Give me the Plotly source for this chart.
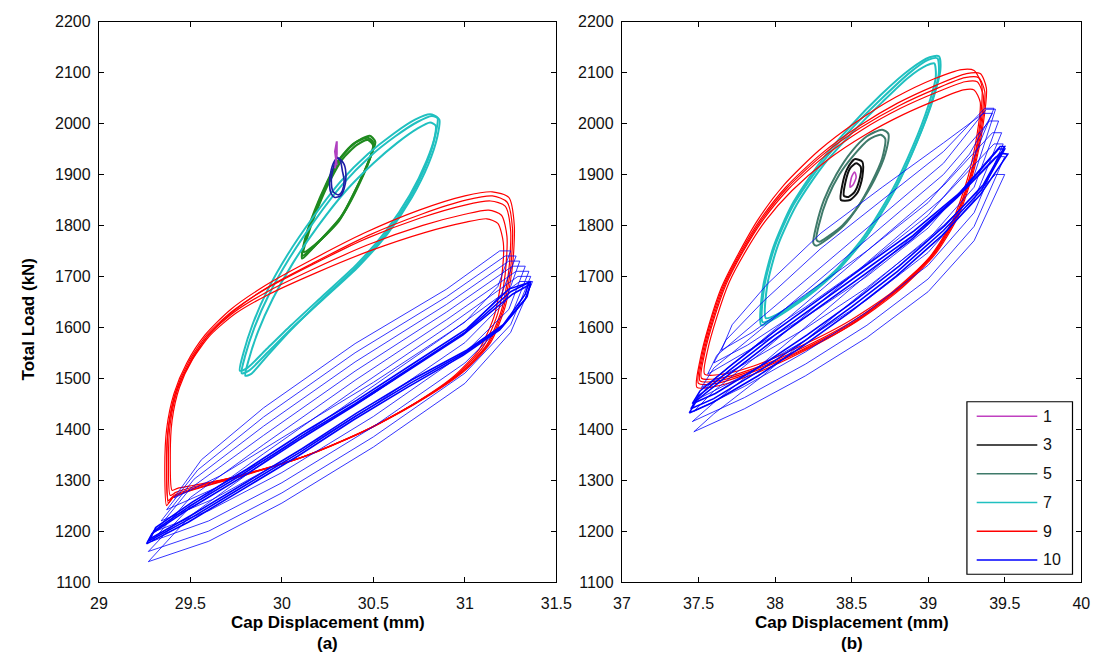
import plotly.graph_objects as go

# ---------------- data ----------------
SERIES = ["1", "3", "5", "7", "9", "10"]
X_TICKS_A = [29, 29.5, 30, 30.5, 31, 31.5]
X_TICKS_B = [37, 37.5, 38, 38.5, 39, 39.5, 40]
Y_TICKS = [1100, 1200, 1300, 1400, 1500, 1600, 1700, 1800, 1900, 2000, 2100, 2200]
X_TITLE = "Cap Displacement (mm)"
Y_TITLE = "Total Load (kN)"
PANEL_LABELS = ["(a)", "(b)"]

# ----- panel (a) -----
A1_X = [[30.29, 30.30, 30.30, 30.29, 30.30]]
A1_Y = [[1912, 1940, 1965, 1945, 1918]]

A3_X = [[30.27, 30.26, 30.27, 30.29, 30.31, 30.34, 30.35, 30.34, 30.32, 30.29, 30.27],
        [30.28, 30.27, 30.28, 30.30, 30.32, 30.33, 30.34, 30.33, 30.31, 30.28]]
A3_Y = [[1862, 1885, 1910, 1928, 1932, 1920, 1895, 1872, 1858, 1855, 1862],
        [1866, 1888, 1912, 1934, 1926, 1908, 1888, 1868, 1860, 1866]]

A5_X = [[30.11, 30.14, 30.19, 30.25, 30.32, 30.40, 30.48, 30.51, 30.49, 30.43, 30.32, 30.18, 30.11],
        [30.12, 30.15, 30.20, 30.26, 30.33, 30.41, 30.47, 30.50, 30.48, 30.42, 30.31, 30.18, 30.12],
        [30.11, 30.13, 30.18, 30.24, 30.31, 30.39, 30.47, 30.50, 30.49, 30.44, 30.33, 30.17, 30.11]]
A5_Y = [[1740, 1785, 1835, 1885, 1932, 1962, 1976, 1964, 1940, 1890, 1815, 1760, 1740],
        [1748, 1790, 1838, 1886, 1930, 1958, 1968, 1956, 1932, 1882, 1808, 1762, 1748],
        [1735, 1778, 1830, 1880, 1928, 1960, 1972, 1962, 1942, 1895, 1820, 1756, 1735]]

A7_X = [[29.78, 29.80, 29.85, 29.93, 30.04, 30.18, 30.33, 30.48, 30.62, 30.74, 30.82, 30.86, 30.85, 30.80, 30.71, 30.58, 30.42, 30.24, 30.06, 29.92, 29.82, 29.78],
        [29.80, 29.82, 29.87, 29.95, 30.06, 30.20, 30.35, 30.50, 30.63, 30.74, 30.81, 30.84, 30.83, 30.78, 30.69, 30.56, 30.40, 30.22, 30.05, 29.92, 29.83, 29.80],
        [29.77, 29.79, 29.84, 29.92, 30.03, 30.17, 30.32, 30.47, 30.61, 30.73, 30.81, 30.85, 30.84, 30.79, 30.70, 30.57, 30.41, 30.23, 30.05, 29.91, 29.81, 29.77]]
A7_Y = [[1510, 1545, 1600, 1665, 1735, 1810, 1880, 1935, 1975, 2003, 2015, 2008, 1975, 1920, 1855, 1785, 1720, 1660, 1600, 1550, 1515, 1510],
        [1505, 1538, 1592, 1656, 1726, 1800, 1868, 1922, 1962, 1990, 2002, 1996, 1965, 1912, 1848, 1780, 1716, 1655, 1595, 1544, 1508, 1505],
        [1515, 1550, 1606, 1672, 1742, 1816, 1886, 1940, 1980, 2008, 2018, 2012, 1980, 1926, 1860, 1790, 1724, 1664, 1604, 1555, 1520, 1515]]

A9_X = [[29.37, 29.36, 29.37, 29.41, 29.48, 29.58, 29.72, 29.90, 30.15, 30.45, 30.75, 31.00, 31.15, 31.24, 31.27, 31.26, 31.22, 31.14, 31.00, 30.80, 30.50, 30.15, 29.80, 29.55, 29.40, 29.37],
        [29.38, 29.37, 29.38, 29.42, 29.49, 29.59, 29.73, 29.91, 30.16, 30.46, 30.76, 31.00, 31.14, 31.22, 31.25, 31.24, 31.20, 31.12, 30.98, 30.78, 30.48, 30.13, 29.78, 29.54, 29.41, 29.38],
        [29.39, 29.38, 29.39, 29.43, 29.50, 29.60, 29.74, 29.92, 30.17, 30.47, 30.77, 31.00, 31.13, 31.20, 31.23, 31.22, 31.18, 31.10, 30.96, 30.76, 30.46, 30.11, 29.76, 29.53, 29.42, 29.39],
        [29.40, 29.39, 29.40, 29.44, 29.51, 29.61, 29.75, 29.93, 30.18, 30.48, 30.78, 31.00, 31.12, 31.18, 31.21, 31.20, 31.16, 31.08, 30.94, 30.74, 30.44, 30.09, 29.74, 29.52, 29.43, 29.40],
        [29.38, 29.37, 29.38, 29.42, 29.50, 29.60, 29.74, 29.92, 30.17, 30.47, 30.77, 31.01, 31.15, 31.23, 31.26, 31.25, 31.21, 31.13, 30.99, 30.79, 30.49, 30.14, 29.79, 29.55, 29.41, 29.38]]
A9_Y = [[1250, 1320, 1400, 1470, 1530, 1585, 1635, 1680, 1730, 1785, 1830, 1858, 1866, 1855, 1800, 1720, 1640, 1570, 1515, 1465, 1405, 1350, 1310, 1285, 1265, 1250],
        [1260, 1328, 1406, 1474, 1532, 1585, 1632, 1675, 1722, 1774, 1815, 1840, 1848, 1838, 1790, 1712, 1634, 1566, 1512, 1462, 1402, 1348, 1310, 1287, 1270, 1260],
        [1270, 1336, 1412, 1478, 1534, 1585, 1630, 1670, 1714, 1762, 1800, 1822, 1830, 1820, 1778, 1704, 1628, 1562, 1508, 1458, 1398, 1345, 1308, 1288, 1276, 1270],
        [1280, 1344, 1418, 1482, 1536, 1585, 1628, 1665, 1706, 1750, 1786, 1806, 1813, 1804, 1766, 1696, 1622, 1558, 1504, 1454, 1394, 1342, 1306, 1290, 1284, 1280],
        [1255, 1324, 1403, 1472, 1531, 1585, 1633, 1678, 1726, 1780, 1823, 1850, 1858, 1846, 1795, 1716, 1637, 1568, 1514, 1464, 1404, 1349, 1310, 1286, 1268, 1255]]

A10_THIN_X = [[29.27, 29.60, 30.00, 30.50, 31.00, 31.25, 31.37, 31.30, 30.90, 30.40, 29.90, 29.50, 29.27],
              [29.27, 29.60, 30.00, 30.50, 31.00, 31.25, 31.36, 31.29, 30.90, 30.40, 29.90, 29.50, 29.27],
              [29.29, 29.60, 30.00, 30.50, 31.00, 31.25, 31.35, 31.28, 30.90, 30.40, 29.90, 29.50, 29.29],
              [29.31, 29.60, 30.00, 30.50, 31.00, 31.24, 31.33, 31.26, 30.90, 30.40, 29.90, 29.50, 29.31],
              [29.34, 29.62, 30.00, 30.50, 31.00, 31.22, 31.30, 31.24, 30.90, 30.40, 29.90, 29.52, 29.34],
              [29.37, 29.64, 30.00, 30.50, 31.00, 31.20, 31.28, 31.22, 30.90, 30.40, 29.90, 29.54, 29.37],
              [29.41, 29.66, 30.00, 30.50, 31.00, 31.18, 31.25, 31.19, 30.90, 30.40, 29.90, 29.56, 29.41]]
A10_THIN_Y = [[1140, 1180, 1255, 1365, 1490, 1590, 1690, 1690, 1585, 1460, 1335, 1230, 1140],
              [1160, 1200, 1275, 1385, 1510, 1605, 1700, 1700, 1600, 1478, 1352, 1248, 1160],
              [1180, 1220, 1295, 1405, 1530, 1620, 1710, 1710, 1615, 1496, 1370, 1266, 1180],
              [1200, 1240, 1315, 1425, 1550, 1635, 1720, 1720, 1630, 1514, 1388, 1284, 1200],
              [1220, 1262, 1337, 1447, 1570, 1650, 1730, 1730, 1645, 1532, 1406, 1302, 1220],
              [1242, 1285, 1360, 1470, 1590, 1665, 1740, 1740, 1660, 1550, 1424, 1320, 1242],
              [1265, 1308, 1383, 1492, 1610, 1680, 1750, 1750, 1675, 1568, 1442, 1340, 1265]]

A10_THICK_X = [[29.27, 29.50, 29.80, 30.10, 30.40, 30.70, 31.00, 31.20, 31.34, 31.36, 31.25, 31.00, 30.70, 30.40, 30.10, 29.80, 29.50, 29.30, 29.27],
               [29.28, 29.51, 29.81, 30.11, 30.41, 30.71, 31.01, 31.21, 31.33, 31.35, 31.24, 31.01, 30.71, 30.41, 30.11, 29.81, 29.51, 29.31, 29.28],
               [29.26, 29.49, 29.79, 30.09, 30.39, 30.69, 30.99, 31.19, 31.33, 31.36, 31.26, 30.99, 30.69, 30.39, 30.09, 29.79, 29.49, 29.29, 29.26]]
A10_THICK_Y = [[1180, 1225, 1290, 1355, 1425, 1490, 1550, 1600, 1660, 1690, 1670, 1590, 1520, 1450, 1385, 1315, 1250, 1200, 1180],
               [1185, 1232, 1297, 1362, 1432, 1497, 1555, 1605, 1665, 1688, 1675, 1597, 1527, 1457, 1392, 1322, 1257, 1207, 1185],
               [1175, 1218, 1283, 1348, 1418, 1483, 1545, 1595, 1655, 1685, 1665, 1585, 1515, 1445, 1378, 1308, 1243, 1195, 1175]]

# ----- panel (b) -----
B1_X = [[38.49, 38.50, 38.52, 38.53, 38.51, 38.49]]
B1_Y = [[1875, 1895, 1905, 1895, 1880, 1875]]

B3_X = [[38.43, 38.44, 38.47, 38.52, 38.57, 38.57, 38.54, 38.49, 38.43],
        [38.45, 38.46, 38.49, 38.53, 38.56, 38.55, 38.52, 38.48, 38.45]]
B3_Y = [[1850, 1880, 1910, 1930, 1925, 1895, 1865, 1850, 1850],
        [1858, 1885, 1912, 1922, 1915, 1888, 1866, 1856, 1858]]

B5_X = [[38.25, 38.27, 38.32, 38.40, 38.50, 38.60, 38.70, 38.74, 38.72, 38.65, 38.55, 38.45, 38.35, 38.27, 38.25],
        [38.27, 38.29, 38.34, 38.42, 38.52, 38.61, 38.69, 38.72, 38.70, 38.63, 38.54, 38.44, 38.35, 38.29, 38.27]]
B5_Y = [[1765, 1800, 1850, 1900, 1945, 1975, 1988, 1980, 1940, 1890, 1840, 1800, 1775, 1760, 1765],
        [1772, 1805, 1852, 1900, 1940, 1968, 1978, 1970, 1932, 1884, 1836, 1800, 1779, 1768, 1772]]

B7_X = [[37.92, 37.93, 38.00, 38.12, 38.30, 38.50, 38.70, 38.88, 39.00, 39.06, 39.07, 39.02, 38.92, 38.78, 38.60, 38.40, 38.20, 38.00, 37.92],
        [37.94, 37.95, 38.02, 38.14, 38.31, 38.51, 38.70, 38.87, 38.99, 39.04, 39.05, 39.00, 38.90, 38.76, 38.58, 38.39, 38.20, 38.01, 37.94],
        [37.91, 37.92, 37.99, 38.11, 38.29, 38.49, 38.69, 38.88, 39.01, 39.07, 39.08, 39.03, 38.93, 38.79, 38.61, 38.41, 38.21, 37.99, 37.91]]
B7_Y = [[1610, 1680, 1760, 1840, 1920, 1990, 2050, 2100, 2125, 2128, 2100, 2040, 1960, 1870, 1780, 1710, 1660, 1620, 1610],
        [1618, 1684, 1762, 1840, 1916, 1984, 2042, 2090, 2114, 2118, 2092, 2034, 1955, 1866, 1778, 1710, 1662, 1625, 1618],
        [1604, 1676, 1758, 1840, 1922, 1994, 2056, 2106, 2130, 2132, 2106, 2046, 1966, 1874, 1784, 1712, 1660, 1616, 1604]]

B9_X = [[37.50, 37.52, 37.58, 37.66, 37.77, 37.90, 38.07, 38.30, 38.55, 38.80, 39.05, 39.25, 39.34, 39.38, 39.36, 39.30, 39.20, 39.05, 38.80, 38.50, 38.15, 37.85, 37.62, 37.50],
        [37.52, 37.54, 37.60, 37.68, 37.79, 37.92, 38.09, 38.32, 38.57, 38.82, 39.06, 39.24, 39.32, 39.36, 39.34, 39.28, 39.18, 39.03, 38.78, 38.48, 38.14, 37.85, 37.64, 37.52],
        [37.54, 37.56, 37.62, 37.70, 37.81, 37.94, 38.11, 38.34, 38.59, 38.84, 39.07, 39.23, 39.30, 39.34, 39.32, 39.26, 39.16, 39.01, 38.76, 38.46, 38.13, 37.86, 37.66, 37.54],
        [37.49, 37.51, 37.57, 37.65, 37.76, 37.89, 38.06, 38.29, 38.54, 38.79, 39.04, 39.22, 39.30, 39.35, 39.34, 39.29, 39.19, 39.04, 38.79, 38.49, 38.14, 37.84, 37.61, 37.49],
        [37.51, 37.53, 37.59, 37.67, 37.78, 37.91, 38.08, 38.31, 38.56, 38.81, 39.05, 39.24, 39.33, 39.37, 39.35, 39.29, 39.19, 39.04, 38.79, 38.49, 38.15, 37.85, 37.63, 37.51]]
B9_Y = [[1490, 1540, 1610, 1680, 1745, 1810, 1875, 1940, 1995, 2040, 2075, 2098, 2098, 2070, 2000, 1910, 1820, 1745, 1670, 1605, 1550, 1512, 1490, 1490],
        [1500, 1548, 1615, 1684, 1748, 1810, 1872, 1935, 1988, 2030, 2062, 2082, 2082, 2055, 1990, 1902, 1815, 1742, 1670, 1607, 1554, 1518, 1500, 1500],
        [1508, 1555, 1620, 1688, 1750, 1810, 1868, 1928, 1978, 2018, 2048, 2066, 2066, 2042, 1980, 1895, 1810, 1738, 1668, 1608, 1558, 1524, 1508, 1508],
        [1482, 1535, 1606, 1678, 1744, 1812, 1880, 1948, 2005, 2052, 2088, 2106, 2104, 2075, 2005, 1915, 1825, 1748, 1672, 1604, 1546, 1506, 1484, 1482],
        [1495, 1544, 1612, 1682, 1746, 1810, 1874, 1938, 1992, 2035, 2068, 2090, 2090, 2062, 1995, 1906, 1818, 1744, 1670, 1606, 1552, 1515, 1495, 1495]]

B10_THIN_X = [[37.47, 37.80, 38.20, 38.60, 39.00, 39.30, 39.50, 39.44, 39.10, 38.70, 38.30, 37.90, 37.60, 37.47],
              [37.46, 37.80, 38.20, 38.60, 39.00, 39.30, 39.50, 39.44, 39.10, 38.70, 38.30, 37.90, 37.60, 37.46],
              [37.47, 37.80, 38.20, 38.60, 39.00, 39.30, 39.49, 39.43, 39.10, 38.70, 38.30, 37.90, 37.60, 37.47],
              [37.49, 37.80, 38.20, 38.60, 39.00, 39.30, 39.48, 39.42, 39.10, 38.70, 38.30, 37.90, 37.60, 37.49],
              [37.52, 37.80, 38.20, 38.60, 39.00, 39.30, 39.46, 39.40, 39.10, 38.70, 38.30, 37.90, 37.60, 37.52],
              [37.56, 37.80, 38.20, 38.60, 39.00, 39.30, 39.44, 39.38, 39.10, 38.70, 38.30, 37.90, 37.62, 37.56],
              [37.60, 37.82, 38.20, 38.60, 39.00, 39.28, 39.43, 39.37, 39.10, 38.70, 38.30, 37.92, 37.68, 37.60],
              [37.65, 37.85, 38.20, 38.60, 39.00, 39.27, 39.42, 39.36, 39.10, 38.70, 38.30, 37.95, 37.72, 37.65]]
B10_THIN_Y = [[1395, 1440, 1505, 1580, 1670, 1770, 1900, 1900, 1800, 1700, 1600, 1500, 1430, 1395],
              [1415, 1462, 1528, 1604, 1695, 1798, 1935, 1935, 1830, 1728, 1626, 1524, 1452, 1415],
              [1435, 1484, 1552, 1630, 1722, 1825, 1960, 1960, 1855, 1752, 1650, 1548, 1475, 1435],
              [1458, 1506, 1575, 1654, 1747, 1850, 1982, 1982, 1878, 1775, 1673, 1571, 1498, 1458],
              [1482, 1528, 1598, 1678, 1772, 1875, 2005, 2005, 1900, 1798, 1696, 1594, 1520, 1482],
              [1508, 1550, 1620, 1700, 1795, 1898, 2028, 2028, 1922, 1820, 1718, 1616, 1545, 1508],
              [1530, 1565, 1640, 1725, 1820, 1920, 2030, 2030, 1945, 1850, 1755, 1650, 1575, 1530],
              [1555, 1590, 1665, 1750, 1845, 1940, 2020, 2020, 1962, 1875, 1785, 1685, 1605, 1555]]

B10_THICK_X = [[37.45, 37.60, 37.90, 38.20, 38.50, 38.80, 39.10, 39.35, 39.50, 39.46, 39.20, 38.90, 38.60, 38.30, 38.00, 37.70, 37.50, 37.45],
               [37.46, 37.61, 37.91, 38.21, 38.51, 38.81, 39.11, 39.36, 39.50, 39.47, 39.21, 38.91, 38.61, 38.31, 38.01, 37.71, 37.51, 37.46],
               [37.44, 37.59, 37.89, 38.19, 38.49, 38.79, 39.09, 39.34, 39.52, 39.47, 39.19, 38.89, 38.59, 38.29, 37.99, 37.69, 37.49, 37.44]]
B10_THICK_Y = [[1440, 1460, 1515, 1575, 1640, 1710, 1790, 1870, 1950, 1950, 1860, 1780, 1715, 1650, 1585, 1515, 1465, 1440],
               [1450, 1470, 1525, 1585, 1650, 1720, 1800, 1880, 1955, 1955, 1865, 1790, 1725, 1660, 1595, 1525, 1475, 1450],
               [1432, 1452, 1505, 1565, 1630, 1700, 1780, 1860, 1940, 1942, 1855, 1772, 1705, 1640, 1575, 1505, 1457, 1432]]

# ---------------- styling ----------------
COLORS_A = {"1": "#b040c0", "3": "#1c1ca8", "5": "#1f8a1f", "7": "#20c0c0", "9": "#ff0000", "10": "#0000ff"}
COLORS_B = {"1": "#c040c0", "3": "#101010", "5": "#3f7a6a", "7": "#20c0c0", "9": "#ff0000", "10": "#0000ff"}
FONT = "Liberation Sans, Arial, sans-serif"
TICK_SIZE = 16
TITLE_SIZE = 17
W, H = 1110, 670

# frame positions in pixels
A_LEFT, A_RIGHT = 92, 560
B_LEFT, B_RIGHT = 627, 1097
TOP, BOTTOM = 14, 589


def join(cycles):
    out = []
    for c in cycles:
        out += list(c) + [None]
    return out


fig = go.Figure()


def add(xs, ys, color, width, name, xa, ya, shape="spline"):
    fig.add_trace(go.Scatter(
        x=join(xs), y=join(ys), mode="lines", name=name,
        line=dict(color=color, width=width, shape=shape, smoothing=0.7),
        xaxis=xa, yaxis=ya, showlegend=False, connectgaps=False, hoverinfo="skip"))


# panel (a)
add(A5_X, A5_Y, COLORS_A["5"], 2.2, "5", "x", "y")
add(A7_X, A7_Y, COLORS_A["7"], 2.0, "7", "x", "y")
add(A9_X, A9_Y, COLORS_A["9"], 1.2, "9", "x", "y")
add(A10_THIN_X, A10_THIN_Y, COLORS_A["10"], 0.8, "10", "x", "y", shape="linear")
add(A10_THICK_X, A10_THICK_Y, COLORS_A["10"], 1.6, "10", "x", "y", shape="linear")
add(A3_X, A3_Y, COLORS_A["3"], 1.6, "3", "x", "y")
add(A1_X, A1_Y, COLORS_A["1"], 2.0, "1", "x", "y", shape="linear")

# panel (b)
add(B7_X, B7_Y, COLORS_B["7"], 2.0, "7", "x2", "y2")
add(B5_X, B5_Y, COLORS_B["5"], 2.0, "5", "x2", "y2")
add(B9_X, B9_Y, COLORS_B["9"], 1.2, "9", "x2", "y2")
add(B10_THIN_X, B10_THIN_Y, COLORS_B["10"], 0.8, "10", "x2", "y2", shape="linear")
add(B10_THICK_X, B10_THICK_Y, COLORS_B["10"], 1.6, "10", "x2", "y2", shape="linear")
add(B3_X, B3_Y, COLORS_B["3"], 2.0, "3", "x2", "y2")
add(B1_X, B1_Y, COLORS_B["1"], 1.6, "1", "x2", "y2")

axis_common = dict(showline=True, linecolor="black", linewidth=1.2, mirror="ticks",
                   ticks="inside", ticklen=5, tickcolor="black", showgrid=False,
                   zeroline=False, tickfont=dict(family=FONT, size=TICK_SIZE, color="#111111"))
xdom_a = [A_LEFT / W, A_RIGHT / W]
xdom_b = [B_LEFT / W, B_RIGHT / W]
ydom = [1 - BOTTOM / H, 1 - TOP / H]
title_font = dict(family=FONT, size=TITLE_SIZE, color="black")

fig.update_layout(
    width=W, height=H, autosize=False,
    margin=dict(l=0, r=0, t=0, b=0),
    paper_bgcolor="white", plot_bgcolor="white",
    font=dict(family=FONT, color="black"),
    xaxis=dict(domain=xdom_a, range=[29, 31.5], tickvals=X_TICKS_A,
               ticktext=[f"{v:g}" for v in X_TICKS_A], anchor="y", ticklabelstandoff=7,
               **axis_common),
    yaxis=dict(domain=ydom, range=[1100, 2200], tickvals=Y_TICKS, anchor="x",
               ticklabelstandoff=4, **axis_common),
    xaxis2=dict(domain=xdom_b, range=[37, 40], tickvals=X_TICKS_B,
                ticktext=[f"{v:g}" for v in X_TICKS_B], anchor="y2", ticklabelstandoff=7,
                **axis_common),
    yaxis2=dict(domain=ydom, range=[1100, 2200], tickvals=Y_TICKS, anchor="x2",
                ticklabelstandoff=4, **axis_common),
    showlegend=False,
)

# axis titles and panel labels
fig.add_annotation(text=f"<b>{Y_TITLE}</b>", x=20 / W, y=1 - 320 / H, xref="paper", yref="paper",
                   showarrow=False, textangle=-90, xanchor="center", yanchor="middle",
                   font=title_font)
for label, dom in zip(PANEL_LABELS, (xdom_a, xdom_b)):
    xc = (dom[0] + dom[1]) / 2
    fig.add_annotation(text=f"<b>{X_TITLE}</b>", x=xc, y=1 - 631 / H,
                       xref="paper", yref="paper", showarrow=False,
                       font=title_font, xanchor="center", yanchor="middle")
    fig.add_annotation(text=f"<b>{label}</b>", x=xc, y=1 - 652 / H,
                       xref="paper", yref="paper", showarrow=False,
                       font=title_font, xanchor="center", yanchor="middle")

# legend box for panel (b), drawn from the series names and colours
LEG_LEFT, LEG_RIGHT, LEG_TOP, LEG_BOTTOM = 980, 1088, 404, 581
step = (LEG_BOTTOM - LEG_TOP) / len(SERIES)
fig.add_shape(type="rect", xref="paper", yref="paper",
              x0=LEG_LEFT / W, x1=LEG_RIGHT / W, y0=1 - LEG_BOTTOM / H, y1=1 - LEG_TOP / H,
              line=dict(color="black", width=1.2), fillcolor="white", layer="above")
for i, name in enumerate(SERIES):
    yc = LEG_TOP + step * (i + 0.5)
    fig.add_shape(type="line", xref="paper", yref="paper",
                  x0=990 / W, x1=1052 / W, y0=1 - yc / H, y1=1 - yc / H,
                  line=dict(color=COLORS_B[name], width=1.5), layer="above")
    fig.add_annotation(text=name, x=1056 / W, y=1 - yc / H, xref="paper", yref="paper",
                       showarrow=False, xanchor="left", yanchor="middle",
                       font=dict(family=FONT, size=TICK_SIZE, color="#111111"))

fig.write_html("out.html", config={"displayModeBar": False},
               post_script="document.body.style.margin='0';document.body.style.overflow='hidden';")
